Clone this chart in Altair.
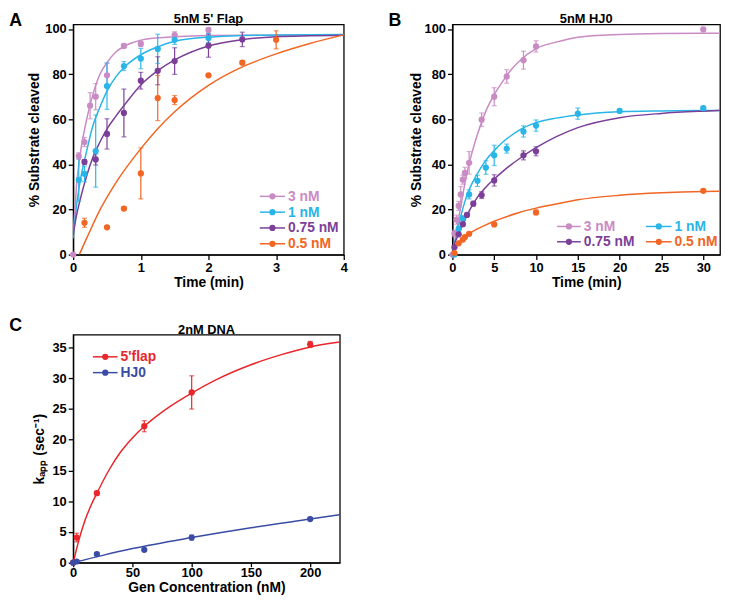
import altair as alt
import pandas as pd

FONT = "Liberation Sans"

# ---------------- Panel A : 5nM 5' Flap ----------------
A_series = ["3 nM", "1 nM", "0.75 nM", "0.5 nM"]
A_colors = ["#c98bc4", "#29b5e8", "#7b3f98", "#f26522"]

A_3nM_time = [0, 0.083, 0.167, 0.25, 0.333, 0.5, 0.75, 1.0, 1.5, 2.0]
A_3nM_val = [0, 43.7, 49.9, 66.0, 70.0, 79.5, 92.5, 93.4, 97.3, 99.6]
A_3nM_err = [0, 1.5, 2.0, 5.8, 5.8, 5.3, 0.8, 1.2, 1.5, 0.8]

A_1nM_time = [0.083, 0.167, 0.333, 0.5, 0.75, 1.0, 1.25, 1.5, 2.0]
A_1nM_val = [33.1, 35.8, 45.9, 74.7, 83.6, 86.9, 91.2, 95.2, 96.0]
A_1nM_err = [9.5, 3.5, 16.0, 10.3, 2.0, 4.5, 6.5, 2.0, 2.0]

A_075nM_time = [0.167, 0.333, 0.5, 0.75, 1.0, 1.25, 1.5, 2.0, 2.5]
A_075nM_val = [41.1, 42.2, 53.5, 62.8, 77.1, 81.5, 85.8, 92.6, 95.4]
A_075nM_err = [1.0, 2.5, 6.7, 10.6, 3.7, 6.2, 5.9, 5.1, 3.2]

A_05nM_time = [0.167, 0.5, 0.75, 1.0, 1.25, 1.5, 2.0, 2.5, 3.0]
A_05nM_val = [14.1, 12.1, 20.4, 36.0, 69.4, 68.5, 79.5, 85.1, 95.2]
A_05nM_err = [2.0, 0.5, 0.8, 11.3, 10.0, 2.0, 0.5, 0.8, 4.0]

# fitted curves
A_3nM_fit_t = [0, 0.025, 0.05, 0.1, 0.2, 0.29, 0.39, 0.51, 0.63, 0.76, 1.0, 1.25, 1.5, 2.0, 3.0, 4.0]
A_3nM_fit_v = [10, 20, 30.7, 43.8, 60, 70.8, 79.6, 85.5, 89.8, 92.4, 95.0, 96.1, 96.6, 97.1, 97.3, 97.4]
A_1nM_fit_t = [0, 0.05, 0.1, 0.2, 0.29, 0.39, 0.51, 0.63, 0.76, 1.0, 1.24, 1.5, 2.0, 3.0, 4.0]
A_1nM_fit_v = [7.3, 21.9, 32.0, 46.0, 57.0, 65.0, 73.0, 78.8, 83.2, 88.6, 92.0, 94.6, 96.4, 97.4, 97.6]
A_075nM_fit_t = [0, 0.05, 0.1, 0.2, 0.29, 0.39, 0.51, 0.63, 0.76, 1.0, 1.24, 1.5, 2.0, 2.5, 3.0, 3.5, 4.0]
A_075nM_fit_v = [8.8, 17.5, 24.0, 35.0, 43.0, 49.6, 56.2, 61.3, 66.4, 75.2, 81.3, 86.3, 92.5, 95.3, 96.6, 97.0, 97.2]
A_05nM_fit_t = [0.09, 0.2, 0.39, 0.63, 1.0, 1.24, 1.5, 2.0, 2.5, 3.0, 3.5, 4.0]
A_05nM_fit_v = [0, 7.3, 19.5, 31.8, 47.0, 55.5, 63.3, 75.0, 83.2, 89.0, 93.6, 97.4]

# ---------------- Panel B : 5nM HJ0 ----------------
B_series = ["3 nM", "1 nM", "0.75 nM", "0.5 nM"]
B_colors = ["#c98bc4", "#29b5e8", "#7b3f98", "#f26522"]

B_3nM_time = [0, 0.25, 0.5, 0.75, 1.0, 1.25, 1.5, 2.0, 3.5, 5.0, 6.5, 8.5, 10.0, 30.0]
B_3nM_val = [0, 9.4, 15.5, 21.6, 26.7, 33.2, 36.2, 40.7, 59.8, 70.0, 79.0, 86.2, 92.3, 99.8]
B_3nM_err = [0, 1.5, 2.0, 2.0, 3.5, 2.0, 2.5, 5.0, 3.0, 4.0, 3.0, 4.0, 2.5, 0.5]

B_1nM_time = [0.25, 0.75, 1.25, 2.0, 3.0, 4.0, 5.0, 6.5, 8.5, 10.0, 15.0, 20.0, 30.0]
B_1nM_val = [0, 11.4, 16.1, 26.7, 32.7, 38.6, 44.0, 47.0, 54.6, 57.2, 62.5, 63.7, 64.9]
B_1nM_err = [0, 1.0, 1.0, 2.0, 2.5, 3.0, 4.5, 2.0, 2.5, 2.5, 2.5, 0.8, 0.8]

B_075nM_time = [0.25, 0.75, 1.25, 1.75, 2.5, 3.5, 5.0, 8.5, 10.0]
B_075nM_val = [3.3, 9.0, 13.5, 17.6, 22.6, 26.4, 32.9, 44.0, 45.8]
B_075nM_err = [0.5, 0.5, 0.8, 0.8, 1.0, 1.5, 2.5, 2.0, 2.0]

B_05nM_time = [0.25, 0.75, 1.25, 1.5, 2.0, 5.0, 10.0, 30.0]
B_05nM_val = [0.7, 5.0, 6.7, 7.8, 9.2, 13.4, 18.7, 28.3]
B_05nM_err = [0.3, 0.5, 0.5, 0.5, 0.5, 0.5, 1.0, 0.5]

B_3nM_fit_t = [0, 0.47, 1, 1.5, 2, 3, 4, 5, 6, 7, 8, 10, 12.4, 15, 20, 25, 30, 32]
B_3nM_fit_v = [0, 9.8, 21.4, 31.6, 40.3, 53.4, 63.6, 70.9, 76.7, 81.8, 85.7, 91.3, 94.2, 96.4, 97.6, 98.0, 98.1, 98.1]
B_1nM_fit_t = [0, 0.25, 0.5, 1, 1.5, 2, 3, 4, 5, 6, 7, 8, 10, 12.4, 15, 20, 25, 30, 32]
B_1nM_fit_v = [0, 4.8, 9.0, 17.0, 23.6, 28.7, 36.0, 41.8, 46.1, 49.8, 52.7, 55.2, 58.5, 60.5, 61.9, 63.3, 63.7, 63.9, 63.9]
B_075nM_fit_t = [0, 0.5, 1, 1.5, 2, 3, 4, 5, 6, 7, 8, 10, 12.5, 15, 20, 25, 30, 32]
B_075nM_fit_v = [2.5, 7.0, 11.3, 15.3, 19.3, 25.5, 29.9, 33.5, 36.8, 39.8, 42.5, 47.4, 52.4, 56.3, 60.7, 62.6, 63.6, 63.9]
B_05nM_fit_t = [0.3, 0.5, 1, 1.5, 2, 3, 4, 5, 6, 8, 10, 12.4, 15, 20, 25, 30, 32]
B_05nM_fit_v = [3.5, 4.7, 6.5, 8.0, 9.3, 11.4, 13.2, 14.8, 16.2, 18.7, 20.6, 22.4, 24.3, 26.3, 27.4, 28.0, 28.1]

# ---------------- Panel C : 2nM DNA ----------------
C_series = ["5'flap", "HJ0"]
C_colors = ["#e8262b", "#3a4ca3"]
C_conc = [0, 3, 20, 60, 100, 200]
C_flap_k = [0, 4.1, 11.3, 22.2, 27.7, 35.5]
C_flap_err = [0, 0.7, 0.3, 0.9, 2.7, 0.5]
C_hj0_k = [0, 0.2, 1.4, 2.1, 4.1, 7.1]
C_hj0_err = [0, 0.1, 0.2, 0.2, 0.4, 0.2]

C_flap_fit_x = [0, 5, 10, 15, 20, 30, 40, 50, 60, 80, 100, 120, 150, 175, 200, 225]
C_flap_fit_y = [0, 3.8, 6.9, 9.3, 11.3, 15.0, 18.0, 20.3, 22.2, 25.2, 27.6, 29.7, 32.2, 33.8, 35.1, 35.9]
C_hj0_fit_x = [0, 25, 50, 100, 150, 200, 225]
C_hj0_fit_y = [0, 1.2, 2.3, 4.1, 5.7, 7.1, 7.8]


def pts_df(name, t, v, e):
    return pd.DataFrame({"s": name, "t": t, "v": v,
                         "lo": [a - b for a, b in zip(v, e)],
                         "hi": [a + b for a, b in zip(v, e)]})


def fit_df(name, t, v):
    return pd.DataFrame({"s": name, "t": t, "v": v})


A_pts = pd.concat([pts_df("3 nM", A_3nM_time, A_3nM_val, A_3nM_err),
                   pts_df("1 nM", A_1nM_time, A_1nM_val, A_1nM_err),
                   pts_df("0.75 nM", A_075nM_time, A_075nM_val, A_075nM_err),
                   pts_df("0.5 nM", A_05nM_time, A_05nM_val, A_05nM_err)])
A_fit = pd.concat([fit_df("3 nM", A_3nM_fit_t, A_3nM_fit_v),
                   fit_df("1 nM", A_1nM_fit_t, A_1nM_fit_v),
                   fit_df("0.75 nM", A_075nM_fit_t, A_075nM_fit_v),
                   fit_df("0.5 nM", A_05nM_fit_t, A_05nM_fit_v)])
B_pts = pd.concat([pts_df("3 nM", B_3nM_time, B_3nM_val, B_3nM_err),
                   pts_df("1 nM", B_1nM_time, B_1nM_val, B_1nM_err),
                   pts_df("0.75 nM", B_075nM_time, B_075nM_val, B_075nM_err),
                   pts_df("0.5 nM", B_05nM_time, B_05nM_val, B_05nM_err)])
B_fit = pd.concat([fit_df("3 nM", B_3nM_fit_t, B_3nM_fit_v),
                   fit_df("1 nM", B_1nM_fit_t, B_1nM_fit_v),
                   fit_df("0.75 nM", B_075nM_fit_t, B_075nM_fit_v),
                   fit_df("0.5 nM", B_05nM_fit_t, B_05nM_fit_v)])
C_pts = pd.concat([pts_df("5'flap", C_conc, C_flap_k, C_flap_err),
                   pts_df("HJ0", C_conc, C_hj0_k, C_hj0_err)])
C_fit = pd.concat([fit_df("5'flap", C_flap_fit_x, C_flap_fit_y),
                   fit_df("HJ0", C_hj0_fit_x, C_hj0_fit_y)])

ONE = pd.DataFrame({"k": [0]})


def panel(pts, fit, series, colors, xdom, xvals, ydom, yvals, w, h,
          xtitle, ytitle, title, title_y, letter, letter_y, legend,
          xtick=5, xlabpad=2, ytitlepad=2):
    cs = alt.Scale(domain=series, range=colors)
    col = alt.Color("s:N", scale=cs, legend=None)
    xs = alt.Scale(domain=xdom, nice=False, zero=False)
    ys = alt.Scale(domain=ydom, nice=False, zero=False)
    xa = alt.Axis(values=xvals, title=xtitle, labelFlush=False, tickSize=xtick,
                  labelPadding=xlabpad, titlePadding=1)
    ya = alt.Axis(values=yvals, title=ytitle, labelFlush=False, tickSize=5,
                  labelPadding=2, titlePadding=ytitlepad)

    def X(f):
        return alt.X(f, type="quantitative", scale=xs, axis=xa)

    def Y(f):
        return alt.Y(f, type="quantitative", scale=ys, axis=ya)

    lines = alt.Chart(fit).mark_line(strokeWidth=1.5, interpolate="monotone", clip=True).encode(
        x=X("t"), y=Y("v"), color=col, detail="s:N")
    bars = alt.Chart(pts).mark_rule(strokeWidth=1.2).encode(
        x=X("t"), y=Y("lo"), y2="hi:Q", color=col)
    cap_lo = alt.Chart(pts).mark_tick(orient="horizontal", size=5, thickness=1.2).encode(
        x=X("t"), y=Y("lo"), color=col)
    cap_hi = alt.Chart(pts).mark_tick(orient="horizontal", size=5, thickness=1.2).encode(
        x=X("t"), y=Y("hi"), color=col)
    dots = alt.Chart(pts).mark_circle(size=40, opacity=1).encode(
        x=X("t"), y=Y("v"), color=col)

    layers = [lines, bars, cap_lo, cap_hi, dots]
    for (lab, c, lx0, lx1, ly) in legend:
        layers.append(alt.Chart(ONE).mark_rule(color=c, strokeWidth=1.5).encode(
            x=alt.value(lx0), x2=alt.value(lx1), y=alt.value(ly)))
        layers.append(alt.Chart(ONE).mark_circle(color=c, size=40, opacity=1).encode(
            x=alt.value((lx0 + lx1) / 2), y=alt.value(ly)))
        layers.append(alt.Chart(ONE).mark_text(color=c, align="left", baseline="middle",
                                               fontSize=14, fontWeight="bold", font=FONT).encode(
            x=alt.value(lx1 + 3), y=alt.value(ly + 0.5), text=alt.value(lab)))
    layers.append(alt.Chart(ONE).mark_text(align="left", baseline="alphabetic", fontSize=18,
                                           fontWeight="bold", font=FONT, color="black").encode(
        x=alt.value(-64.7), y=alt.value(letter_y), text=alt.value(letter)))
    layers.append(alt.Chart(ONE).mark_text(align="center", baseline="alphabetic", fontSize=13,
                                           fontWeight="bold", font=FONT, color="black").encode(
        x=alt.value(w / 2), y=alt.value(title_y), text=alt.value(title)))
    return alt.layer(*layers).properties(width=w, height=h)


A_leg = [(lab, c, 189, 214.5, 174 + 16 * i) for i, (lab, c) in enumerate(zip(A_series, A_colors))]
B_leg = [(B_series[0], B_colors[0], 106, 130, 204.5), (B_series[1], B_colors[1], 196, 222, 204.5),
         (B_series[2], B_colors[2], 106, 130, 220.0), (B_series[3], B_colors[3], 196, 222, 220.0)]
C_leg = [(C_series[0], C_colors[0], 20, 45, 22.5), (C_series[1], C_colors[1], 20, 45, 38.5)]

pA = panel(A_pts, A_fit, A_series, A_colors, [0, 4], [0, 1, 2, 3, 4], [0, 102], [0, 20, 40, 60, 80, 100],
           274, 233, "Time (min)", "% Substrate cleaved", "5nM 5' Flap", -2, "A", 2, A_leg,
           ytitlepad=3)
pB = panel(B_pts, B_fit, B_series, B_colors, [0, 32], [0, 5, 10, 15, 20, 25, 30], [0, 102],
           [0, 20, 40, 60, 80, 100], 271, 233, "Time (min)", "% Substrate cleaved", "5nM HJ0", -2,
           "B", 2, B_leg, ytitlepad=1)
pC = panel(C_pts, C_fit, C_series, C_colors, [0, 225], [0, 50, 100, 150, 200], [0, 37.1],
           [0, 5, 10, 15, 20, 25, 30, 35], 270, 231, "Gen Concentration (nM)",
           "k\u2090\u209a\u209a (sec\u207b\u00b9)", "2nM DNA", -1, "C", -4, C_leg,
           xtick=4, xlabpad=0, ytitlepad=6)

chart = alt.concat(pA, pB, pC, columns=2, bounds="flush",
                   spacing=alt.RowColnumber(row=81, column=110)).resolve_scale(
    color="independent", x="independent", y="independent").properties(padding=0).configure_axis(
    domainColor="black", domainWidth=1.3, tickColor="black", tickWidth=1.3,
    labelFont=FONT, labelFontSize=13, labelFontWeight="bold", labelColor="black",
    titleFont=FONT, titleFontSize=14, titleFontWeight="bold", titleColor="black",
    grid=False
).configure_view(stroke="black", strokeWidth=1.3)

chart.save("out.html", embed_options={"renderer": "svg", "actions": False})
